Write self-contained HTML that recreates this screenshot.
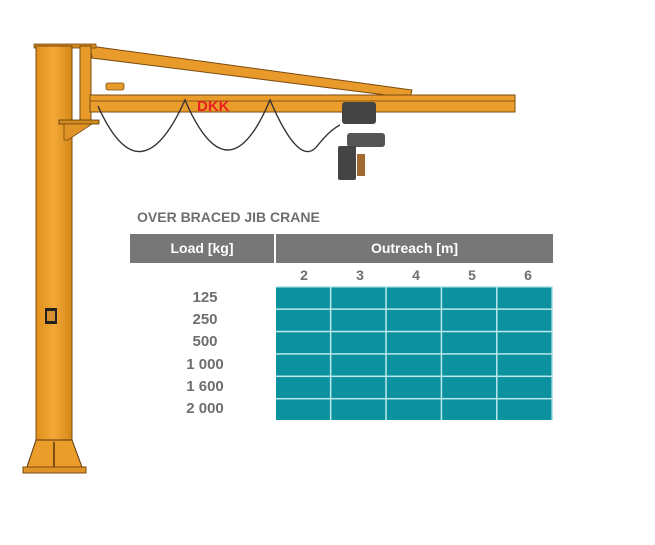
<!DOCTYPE html>
<html><head><style>
body{margin:0;background:#fff;width:655px;height:545px;position:relative;overflow:hidden;font-family:"Liberation Sans",sans-serif}
.t{position:absolute;font-weight:bold;color:#6e6e6e}
</style></head><body>
<svg width="655" height="545" style="position:absolute;left:0;top:0">
<defs><linearGradient id="g" x1="0" x2="1"><stop offset="0" stop-color="#e0901c"/><stop offset="0.5" stop-color="#f5a838"/><stop offset="1" stop-color="#d38818"/></linearGradient></defs>
<polygon points="90,46 92,58 410,98 412,90" fill="#e89a2a" stroke="#7a4a10" stroke-width="1"/>
<rect x="34" y="44" width="62" height="4" fill="#d08a20" stroke="#7a4a10" stroke-width="0.8"/>
<rect x="36" y="46" width="36" height="400" fill="url(#g)" stroke="#7a4a10" stroke-width="1"/>
<polygon points="36,440 72,440 82,467 27,467" fill="#eb9d2c" stroke="#5a3408" stroke-width="1"/>
<line x1="54" y1="442" x2="54" y2="467" stroke="#5a3408" stroke-width="1.5"/>
<rect x="23" y="467" width="63" height="6" fill="#e09428" stroke="#7a4a10" stroke-width="1"/>
<rect x="45" y="308" width="12" height="16" fill="#222"/><rect x="47" y="311" width="8" height="10" fill="#d89030"/>
<rect x="80" y="46" width="11" height="75" fill="#e89a2a" stroke="#7a4a10" stroke-width="1"/>
<rect x="59" y="120" width="40" height="4" fill="#d08a20" stroke="#5a3408" stroke-width="0.8"/>
<polygon points="64,124 92,124 68,140 64,140" fill="#e09428" stroke="#7a4a10" stroke-width="0.8"/>
<rect x="90" y="95" width="425" height="17" fill="#eb9d2c" stroke="#7a4a10" stroke-width="1"/>
<line x1="90" y1="101" x2="515" y2="101" stroke="#8a5512" stroke-width="1"/>
<rect x="106" y="83" width="18" height="7" rx="2" fill="#e89a2a" stroke="#7a4a10" stroke-width="0.8"/>
<text x="197" y="111" font-family="Liberation Sans" font-weight="bold" font-size="15" fill="#e82020">DKK</text>
<path d="M98,106 Q140,200 185,100 Q228,200 270,100 Q300,170 318,145 Q330,130 340,125" fill="none" stroke="#333" stroke-width="1.4"/>
<rect x="342" y="102" width="34" height="22" rx="3" fill="#444"/>
<rect x="347" y="133" width="38" height="14" rx="3" fill="#555"/>
<rect x="338" y="146" width="18" height="34" rx="2" fill="#444"/>
<rect x="357" y="154" width="8" height="22" fill="#a06a30"/>
</svg>
<div class="t" style="left:137px;top:209px;font-size:14px">OVER BRACED JIB CRANE</div>
<div style="position:absolute;left:130px;top:234px;width:144px;height:29px;background:#777;color:#fff;font-weight:bold;font-size:14px;text-align:center;line-height:29px">Load [kg]</div>
<div style="position:absolute;left:276px;top:234px;width:277px;height:29px;background:#777;color:#fff;font-weight:bold;font-size:14px;text-align:center;line-height:29px">Outreach [m]</div>
<div class="t" style="left:276px;top:267px;width:280px;display:flex;font-size:14px"><span style="flex:1;text-align:center">2</span><span style="flex:1;text-align:center">3</span><span style="flex:1;text-align:center">4</span><span style="flex:1;text-align:center">5</span><span style="flex:1;text-align:center">6</span></div>
<div class="t" style="left:160px;top:287px;width:90px;text-align:center;font-size:15px;line-height:22.2px">125<br>250<br>500<br>1 000<br>1 600<br>2 000</div>
<div style="position:absolute;left:276px;top:286px;width:277px;height:134px;background:#0c929e;
background-image:linear-gradient(90deg,transparent 54px,#bfe8ec 54px,#bfe8ec 56px,transparent 56px),linear-gradient(0deg,transparent 21px,#bfe8ec 21px,#bfe8ec 23px,transparent 23px);background-size:55.4px 100%,100% 22.4px"></div>
</body></html>
